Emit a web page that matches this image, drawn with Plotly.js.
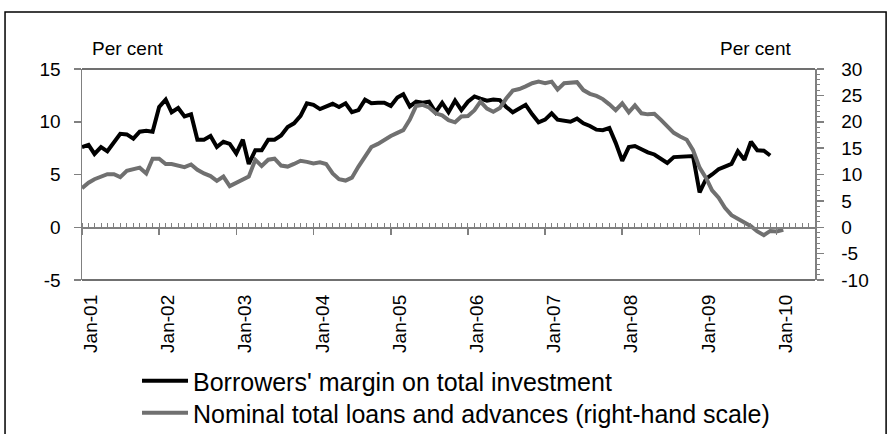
<!DOCTYPE html>
<html>
<head>
<meta charset="utf-8">
<script src="https://cdn.plot.ly/plotly-3.0.1.min.js"></script>
<style>html,body{margin:0;padding:0;background:#fff;}#chart{width:892px;height:434px;}</style>
</head>
<body>
<div id="chart"></div>
<script>
// Borrowers' margin on total investment (per cent, left scale), monthly from Jan-01
const margin = [
  7.6, 7.8, 6.95, 7.6, 7.2, 8.1, 8.85, 8.8, 8.4, 9.06, 9.15, 9.06,
  11.4, 12.1, 10.9, 11.3, 10.5, 10.7, 8.3, 8.3, 8.65, 7.6, 8.1, 7.9,
  7.0, 8.3, 6.0, 7.3, 7.3, 8.3, 8.3, 8.7, 9.5, 9.85, 10.55, 11.75,
  11.6, 11.2, 11.45, 11.7, 11.4, 11.75, 10.9, 11.1, 12.1, 11.75, 11.8, 11.8,
  11.5, 12.3, 12.6, 11.45, 11.9, 11.8, 11.9, 10.9, 11.8, 10.9, 12.0, 11.1,
  11.9, 12.4, 12.2, 12.0, 12.1, 12.05, 11.4, 10.9, 11.25, 11.6, 10.7, 9.95,
  10.2, 10.8, 10.2, 10.1, 10.0, 10.3, 9.85, 9.6, 9.25, 9.2, 9.4, 8.0,
  6.3, 7.6, 7.7, 7.4, 7.1, 6.9, 6.45, 6.1, 6.65, 6.7, 6.7, 6.75,
  3.3, 4.6, 5.0, 5.5, 5.75, 6.0, 7.2, 6.4, 8.1, 7.3, 7.25, 6.8
];
// Nominal total loans and advances (per cent, right-hand scale), monthly from Jan-01
const loans = [
  7.4, 8.45, 9.1, 9.6, 10.05, 10.05, 9.5, 10.7, 11.0, 11.3, 10.2, 13.0,
  13.0, 12.0, 12.0, 11.75, 11.4, 11.9, 10.9, 10.2, 9.7, 8.8, 9.6, 7.8,
  8.45, 9.0, 9.6, 12.8, 11.6, 12.8, 13.0, 11.7, 11.5, 12.0, 12.6, 12.4,
  12.1, 12.3, 12.0, 10.2, 9.1, 8.85, 9.4, 11.5, 13.4, 15.2, 15.8, 16.6,
  17.3, 17.9, 18.4, 20.4, 23.0, 23.2, 22.7, 21.6, 21.2, 20.3, 19.9, 21.0,
  21.1, 22.2, 23.8, 22.5, 21.9, 22.6, 24.4, 25.9, 26.2, 26.7, 27.3, 27.6,
  27.3, 27.6, 26.1, 27.3, 27.4, 27.5, 26.0, 25.3, 24.9, 24.3, 23.3, 22.2,
  23.5, 21.8, 23.1, 21.6, 21.4, 21.5, 20.4, 19.2, 17.9, 17.2, 16.6, 14.6,
  11.3, 9.3, 7.0, 5.6, 3.7, 2.3, 1.6, 0.85, 0.2, -0.8, -1.5, -0.7,
  -0.8, -0.5
];
const tickVals = ['2001-01-01','2002-01-01','2003-01-01','2004-01-01','2005-01-01',
                  '2006-01-01','2007-01-01','2008-01-01','2009-01-01','2010-01-01'];
const tickLabels = ['Jan-01','Jan-02','Jan-03','Jan-04','Jan-05',
                    'Jan-06','Jan-07','Jan-08','Jan-09','Jan-10'];
const leftTicks = [-5, 0, 5, 10, 15];
const leftTickLabels = ['-5', '0', '5', '10', '15'];
const rightTicks = [-10, -5, 0, 5, 10, 15, 20, 25, 30];
const rightTickLabels = ['-10', '-5', '0', '5', '10', '15', '20', '25', '30'];
const seriesNames = ["Borrowers' margin on total investment",
                     "Nominal total loans and advances (right-hand scale)"];

// month categories starting Jan-01
const months = [];
for (let i = 0; i < loans.length; i++) {
  const y = 2001 + Math.floor(i / 12), m = (i % 12) + 1;
  months.push(y + '-' + String(m).padStart(2, '0') + '-01');
}

const FONT = 'Liberation Sans, Arial, sans-serif';
const xRange = ['2001-01-01', '2010-07-01'];
const GRAY = '#808080';

const traces = [
  {x: months.slice(0, margin.length), y: margin, name: seriesNames[0], type: 'scatter', mode: 'lines',
   line: {color: '#000000', width: 4}, xaxis: 'x', yaxis: 'y', legend: 'legend'},
  {x: months.slice(0, loans.length), y: loans, name: seriesNames[1], type: 'scatter', mode: 'lines',
   line: {color: '#707070', width: 4}, xaxis: 'x2', yaxis: 'y2', legend: 'legend2'}
];

const legendBase = {xref: 'container', yref: 'container', xanchor: 'left', yanchor: 'middle',
  font: {family: FONT, size: 25, color: '#000'}, bgcolor: 'rgba(0,0,0,0)', itemwidth: 46};

const layout = {
  width: 892, height: 434,
  margin: {l: 82, r: 77, t: 69, b: 154, pad: 0, autoexpand: false},
  paper_bgcolor: '#ffffff', plot_bgcolor: '#ffffff',
  font: {family: FONT, size: 19, color: '#000'},
  showlegend: true,
  legend: Object.assign({x: 0.1536, y: 1 - 381 / 434}, legendBase),
  legend2: Object.assign({x: 0.1536, y: 1 - 413 / 434}, legendBase),
  // bottom axis: category labels only
  xaxis: {type: 'date', range: xRange, anchor: 'y', side: 'bottom',
          showline: false, showgrid: false, zeroline: false, ticks: '',
          tickmode: 'array', tickvals: tickVals, ticktext: tickLabels, tickangle: -90,
          ticklabelshift: 9, ticklabelstandoff: 10,
          tickfont: {family: FONT, size: 19, color: '#000'}},
  // axis line crossing at zero with ticks
  xaxis2: {type: 'date', range: xRange, overlaying: 'x', anchor: 'free', position: 0.25,
          showline: true, linecolor: GRAY, linewidth: 1.5,
          showgrid: false, zeroline: false, showticklabels: false,
          tickmode: 'array', tickvals: tickVals, ticks: 'outside', ticklen: 6, tickwidth: 1.5, tickcolor: GRAY,
          minor: {dtick: 'M1', tick0: '2001-01-01', ticks: 'inside', ticklen: 4, tickwidth: 1, tickcolor: GRAY, showgrid: false}},
  yaxis: {range: [-5, 15], tickmode: 'array', tickvals: leftTicks, ticktext: leftTickLabels,
          showgrid: false, zeroline: false,
          showline: true, linecolor: GRAY, linewidth: 1.5,
          ticks: 'outside', ticklen: 7, tickwidth: 1.5, tickcolor: GRAY,
          ticklabelstandoff: 9, tickfont: {family: FONT, size: 19, color: '#000'}},
  yaxis2: {range: [-10, 30], tickmode: 'array', tickvals: rightTicks, ticktext: rightTickLabels,
           overlaying: 'y', side: 'right', anchor: 'x',
           showgrid: false, zeroline: false,
           showline: true, linecolor: GRAY, linewidth: 1.5,
           ticks: 'outside', ticklen: 7, tickwidth: 1.5, tickcolor: GRAY,
           minor: {dtick: 1, ticks: 'outside', ticklen: 3, tickwidth: 1, tickcolor: GRAY, showgrid: false},
           ticklabelstandoff: 14, tickfont: {family: FONT, size: 19, color: '#000'}},
  shapes: [
    {type: 'line', xref: 'paper', yref: 'paper', x0: 0, x1: 1, y0: 1, y1: 1, line: {color: '#404040', width: 1.5}},
    {type: 'line', xref: 'paper', yref: 'paper', x0: 0, x1: 1, y0: 0, y1: 0, line: {color: '#404040', width: 1.5}},
    {type: 'rect', xref: 'paper', yref: 'paper', x0: -0.105, x1: 1.097, y0: -0.80, y1: 1.270,
     line: {color: '#000000', width: 1.5}, fillcolor: 'rgba(0,0,0,0)'}
  ],
  annotations: [
    {text: 'Per cent', xref: 'paper', yref: 'paper', x: 0.0109, y: 1.0995, xanchor: 'left', yanchor: 'middle',
     showarrow: false, font: {family: FONT, size: 19, color: '#000'}},
    {text: 'Per cent', xref: 'paper', yref: 'paper', x: 0.8677, y: 1.0995, xanchor: 'left', yanchor: 'middle',
     showarrow: false, font: {family: FONT, size: 19, color: '#000'}}
  ]
};

Plotly.newPlot('chart', traces, layout, {displayModeBar: false, staticPlot: true});
</script>
</body>
</html>
